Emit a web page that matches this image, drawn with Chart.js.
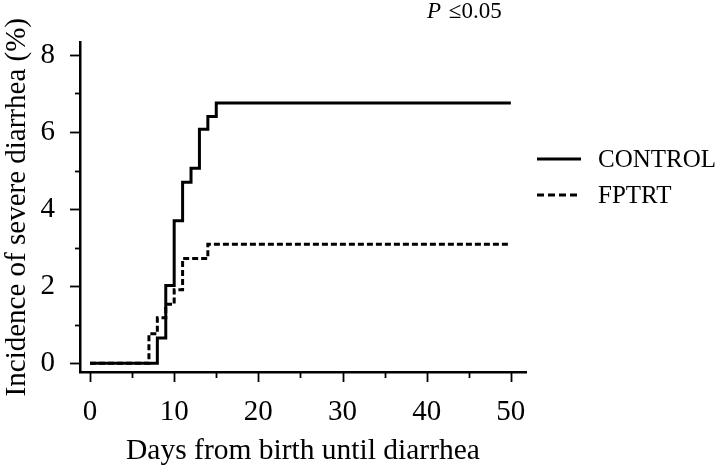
<!DOCTYPE html>
<html>
<head>
<meta charset="utf-8">
<script src="https://cdn.jsdelivr.net/npm/chart.js@4.4.0/dist/chart.umd.min.js"></script>
<style>
  html, body { margin: 0; padding: 0; background: #fff; }
  canvas { display: block; }
</style>
</head>
<body>
<canvas id="kmChart" width="720" height="469"></canvas>
<script>
// Kaplan-Meier style step curves
const controlDays = [0, 8, 9, 10, 11, 12, 13, 14, 15, 50];
const controlPct = [0, 0.66, 2.02, 3.7, 4.7, 5.06, 6.07, 6.4, 6.75, 6.75];
const fptrtDays = [0, 7, 8, 9, 10, 11, 14, 50];
const fptrtPct = [0, 0.77, 1.18, 1.53, 1.91, 2.72, 3.09, 3.09];

const xTicks = [0, 5, 10, 15, 20, 25, 30, 35, 40, 45, 50];
const yTicks = [0, 1, 2, 3, 4, 5, 6, 7, 8];

const seriesNames = ["CONTROL", "FPTRT"];
const pLabel = "P";
const pValue = "≤0.05";

const SERIF = "'Liberation Serif', 'Times New Roman', serif";

function toPoints(xs, ys) {
  return xs.map((x, i) => ({ x: x, y: ys[i] }));
}

// minor/major ticks, legend and p value
const extrasPlugin = {
  id: "extras",
  afterDraw(chart) {
    const ctx = chart.ctx;
    const xs = chart.scales.x;
    const ys = chart.scales.y;
    const area = chart.chartArea;
    ctx.save();
    ctx.strokeStyle = "#000";
    ctx.lineWidth = 1.8;
    xTicks.forEach(v => {
      const px = Math.round(xs.getPixelForValue(v)) + 0.5;
      const len = v % 10 === 0 ? 10 : 6;
      ctx.beginPath();
      ctx.moveTo(px, area.bottom);
      ctx.lineTo(px, area.bottom + len);
      ctx.stroke();
    });
    yTicks.forEach(v => {
      const py = Math.round(ys.getPixelForValue(v)) + 0.5;
      const len = v % 2 === 0 ? 10 : 5;
      ctx.beginPath();
      ctx.moveTo(area.left, py);
      ctx.lineTo(area.left - len, py);
      ctx.stroke();
    });

    // legend
    const legendY = [159, 195];
    const dashes = [[], [7, 4]];
    ctx.font = "25px " + SERIF;
    ctx.fillStyle = "#000";
    ctx.textBaseline = "middle";
    seriesNames.forEach((name, i) => {
      ctx.beginPath();
      ctx.lineWidth = 3.2;
      ctx.setLineDash(dashes[i]);
      ctx.moveTo(537, legendY[i]);
      ctx.lineTo(581, legendY[i]);
      ctx.stroke();
      ctx.setLineDash([]);
      ctx.fillText(name, 598, legendY[i] + 1);
    });

    // p value
    ctx.textBaseline = "alphabetic";
    ctx.font = "italic 23px " + SERIF;
    ctx.fillText(pLabel, 427, 18);
    const pw = ctx.measureText(pLabel + " ").width;
    ctx.font = "23px " + SERIF;
    ctx.fillText(pValue, 427 + pw + 2, 18);
    ctx.restore();
  }
};

new Chart(document.getElementById("kmChart"), {
  type: "line",
  data: {
    datasets: [
      {
        label: seriesNames[0],
        data: toPoints(controlDays, controlPct),
        borderColor: "#000",
        borderWidth: 3,
        stepped: true,
        pointRadius: 0,
        fill: false
      },
      {
        label: seriesNames[1],
        data: toPoints(fptrtDays, fptrtPct),
        borderColor: "#000",
        borderWidth: 3,
        borderDash: [6, 3],
        stepped: true,
        pointRadius: 0,
        fill: false
      }
    ]
  },
  options: {
    responsive: false,
    animation: false,
    devicePixelRatio: 1,
    layout: { padding: { top: 30, right: 194, left: 0, bottom: 0 } },
    plugins: {
      legend: { display: false },
      tooltip: { enabled: false }
    },
    scales: {
      x: {
        type: "linear",
        min: -1.19,
        max: 51.8,
        afterBuildTicks: scale => { scale.ticks = xTicks.map(v => ({ value: v })); },
        afterFit: scale => { scale.height = 97; },
        grid: { display: false, drawTicks: false },
        border: { display: true, color: "#000", width: 2.5 },
        ticks: {
          padding: 23,
          color: "#000",
          font: { family: SERIF, size: 29 },
          maxRotation: 0,
          autoSkip: false,
          callback: v => (v % 10 === 0 ? v : "")
        },
        title: {
          display: true,
          text: "Days from birth until diarrhea",
          color: "#000",
          font: { family: SERIF, size: 29.5 },
          padding: { top: 0, bottom: 0 }
        }
      },
      y: {
        min: -0.225,
        max: 8.325,
        afterBuildTicks: scale => { scale.ticks = yTicks.map(v => ({ value: v })); },
        afterFit: scale => { scale.width = 80; },
        grid: { display: false, drawTicks: false },
        border: { display: true, color: "#000", width: 2.5 },
        ticks: {
          padding: 25,
          color: "#000",
          font: { family: SERIF, size: 29 },
          autoSkip: false,
          callback: v => (v % 2 === 0 ? v : "")
        },
        title: {
          display: true,
          text: "Incidence of severe diarrhea (%)",
          color: "#000",
          font: { family: SERIF, size: 29 },
          padding: { top: 0, bottom: 0 }
        }
      }
    }
  },
  plugins: [extrasPlugin]
});
</script>
</body>
</html>
